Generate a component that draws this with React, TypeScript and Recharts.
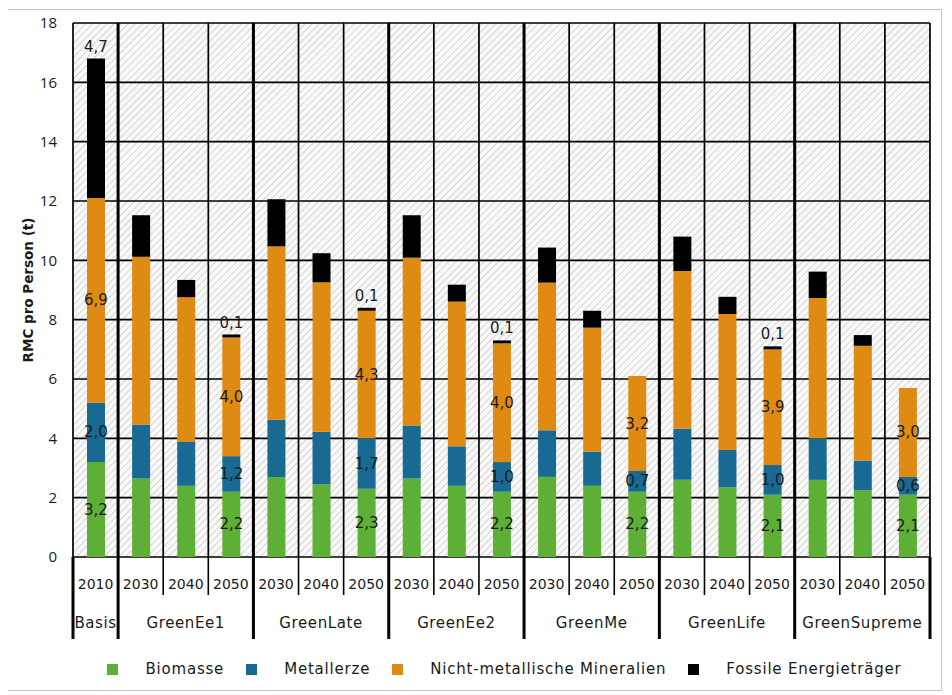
import React from "react";
import {
  BarChart,
  Bar,
  XAxis,
  YAxis,
  CartesianGrid,
  ReferenceLine,
  LabelList,
  Legend,
} from "recharts";

// categories: scenario group + year for each bar
const GROUPS = [
  "Basis",
  "GreenEe1", "GreenEe1", "GreenEe1",
  "GreenLate", "GreenLate", "GreenLate",
  "GreenEe2", "GreenEe2", "GreenEe2",
  "GreenMe", "GreenMe", "GreenMe",
  "GreenLife", "GreenLife", "GreenLife",
  "GreenSupreme", "GreenSupreme", "GreenSupreme",
];
const YEARS = [
  "2010",
  "2030", "2040", "2050",
  "2030", "2040", "2050",
  "2030", "2040", "2050",
  "2030", "2040", "2050",
  "2030", "2040", "2050",
  "2030", "2040", "2050",
];

// RMC per person (t)
const biomasse = [3.2, 2.65, 2.4, 2.2, 2.7, 2.45, 2.3, 2.65, 2.4, 2.2, 2.7, 2.4, 2.2, 2.6, 2.35, 2.1, 2.6, 2.25, 2.1];
const metallerze = [2.0, 1.82, 1.48, 1.2, 1.93, 1.77, 1.7, 1.78, 1.33, 1.0, 1.57, 1.15, 0.7, 1.72, 1.26, 1.0, 1.4, 1.0, 0.6];
const mineralien = [6.9, 5.65, 4.88, 4.0, 5.84, 5.04, 4.3, 5.66, 4.88, 4.0, 4.98, 4.18, 3.2, 5.32, 4.58, 3.9, 4.73, 3.87, 3.0];
const fossil = [4.7, 1.4, 0.58, 0.1, 1.59, 0.98, 0.1, 1.43, 0.57, 0.1, 1.18, 0.57, 0, 1.16, 0.58, 0.1, 0.89, 0.36, 0];

const Y_TICKS = [0, 2, 4, 6, 8, 10, 12, 14, 16, 18];
const LABELED_YEARS = ["2010", "2050"];

const SERIES = [
  { key: "bio", name: "Biomasse", color: "#5daf36", values: biomasse },
  { key: "met", name: "Metallerze", color: "#186a92", values: metallerze },
  { key: "min", name: "Nicht-metallische Mineralien", color: "#df8a12", values: mineralien },
  { key: "fos", name: "Fossile Energieträger", color: "#000000", values: fossil },
];

const fmt = (v: number) => v.toFixed(1).replace(".", ",");

const data = GROUPS.map((g, i) => {
  const row: Record<string, any> = { key: `${g}-${YEARS[i]}` };
  SERIES.forEach((s) => {
    const v = s.values[i];
    row[s.key] = v;
    row[`${s.key}Label`] = LABELED_YEARS.includes(YEARS[i]) && v > 0 ? fmt(v) : "";
  });
  return row;
});

const W = 934;
const H = 679;
const MARGIN = { top: 13, right: 11, left: 0, bottom: 0 };
const Y_W = 66;
const X_H = 92;
const LEGEND_H = 40;
const PLOT_W = W - MARGIN.left - MARGIN.right - Y_W;
const BAND = PLOT_W / GROUPS.length;

const FONT = "'DejaVu Sans', Verdana, sans-serif";

function isGroupStart(i: number) {
  return i === 0 || GROUPS[i] !== GROUPS[i - 1];
}

function XTick(props: any) {
  const { x, y, payload } = props;
  const i = payload.index;
  const start = isGroupStart(i);
  const size = GROUPS.filter((g) => g === GROUPS[i]).length;
  const left = x - BAND / 2;
  return (
    <g>
      <text x={x} y={y + 27} textAnchor="middle" dominantBaseline="central" fontFamily={FONT} fontSize={14} fill="#1a1a1a">
        {YEARS[i]}
      </text>
      <line x1={left} x2={left} y1={y} y2={y + (start ? 82 : 38)} stroke="#000" strokeWidth={start ? 3 : 1.6} />
      {i === GROUPS.length - 1 && (
        <line x1={x + BAND / 2} x2={x + BAND / 2} y1={y} y2={y + 82} stroke="#000" strokeWidth={3} />
      )}
      {start && (
        <text x={left + (size * BAND) / 2} y={y + 66} textAnchor="middle" dominantBaseline="central" fontFamily={FONT} fontSize={15} letterSpacing={0.6} fill="#1a1a1a">
          {GROUPS[i]}
        </text>
      )}
    </g>
  );
}

function makeLabel(top: boolean) {
  return (props: any) => {
    const { x, y, width, height, value } = props;
    if (!value) return null;
    const cx = x + width / 2;
    const cy = top ? y - 12 : y + height / 2;
    return (
      <text x={cx} y={cy} textAnchor="middle" dominantBaseline="central" fontFamily={FONT} fontSize={15} fill="#1a1a1a">
        {value}
      </text>
    );
  };
}

function LegendContent() {
  return (
    <div style={{ display: "flex", justifyContent: "center", alignItems: "center", height: LEGEND_H }}>
      {SERIES.map((s) => (
        <div key={s.key} style={{ display: "flex", alignItems: "center", marginRight: 22 }}>
          <span style={{ width: 11, height: 11, background: s.color, display: "inline-block", marginRight: 27 }} />
          <span style={{ fontFamily: FONT, fontSize: 15, color: "#1a1a1a", letterSpacing: 0.8 }}>{s.name}</span>
        </div>
      ))}
    </div>
  );
}

export default function App() {
  return (
    <div style={{ marginLeft: -2, marginTop: 1, width: W, height: H + 1, border: "1px solid #c4c4c4", background: "#fff" }}>
      <svg width={0} height={0} style={{ position: "absolute" }}>
        <defs>
          <pattern id="hatch" width="5" height="5" patternUnits="userSpaceOnUse" patternTransform="rotate(45)">
            <rect width="5" height="5" fill="#f9f9f9" />
            <line x1="0" y1="0" x2="0" y2="5" stroke="#d4d4d4" strokeWidth="2" />
          </pattern>
        </defs>
      </svg>
      <BarChart width={W} height={H} data={data} margin={MARGIN} barSize={18} barCategoryGap={0}>
        <CartesianGrid
          stroke="#000"
          strokeWidth={1.7}
          fill="url(#hatch)"
          fillOpacity={1}
          verticalCoordinatesGenerator={({ offset }: any) =>
            Array.from({ length: GROUPS.length + 1 }, (_, i) => offset.left + (i * offset.width) / GROUPS.length)
          }
        />
        <XAxis
          dataKey="key"
          height={X_H}
          axisLine={false}
          tickLine={false}
          tickSize={0}
          tickMargin={0}
          interval={0}
          tick={<XTick />}
        />
        <YAxis
          width={Y_W}
          domain={[0, 18]}
          ticks={Y_TICKS}
          axisLine={false}
          tickLine={false}
          tickSize={0}
          tickMargin={16}
          tick={{ fontFamily: "'Open Sans', sans-serif", fontSize: 15, fill: "#1a1a1a" }}
          label={{
            content: ({ viewBox }: any) => {
              const cx = viewBox.x + 21;
              const cy = viewBox.y + viewBox.height / 2;
              return (
                <text x={cx} y={cy} transform={`rotate(-90, ${cx}, ${cy})`} textAnchor="middle" dominantBaseline="central" fontFamily={FONT} fontWeight="bold" fontSize={13.5} fill="#1a1a1a">
                  RMC pro Person (t)
                </text>
              );
            },
          }}
        />
        {GROUPS.map((g, i) =>
          isGroupStart(i) && i > 0 ? (
            <ReferenceLine key={`sep-${i}`} x={data[i].key} position="start" stroke="#000" strokeWidth={3} />
          ) : null
        )}
        {SERIES.map((s) => (
          <Bar key={s.key} dataKey={s.key} name={s.name} stackId="a" fill={s.color} isAnimationActive={false}>
            <LabelList dataKey={`${s.key}Label`} content={makeLabel(s.key === "fos")} />
          </Bar>
        ))}
        <Legend
          verticalAlign="bottom"
          content={<LegendContent />}
          wrapperStyle={{ left: Y_W + 14, width: PLOT_W, height: LEGEND_H }}
        />
      </BarChart>
    </div>
  );
}
